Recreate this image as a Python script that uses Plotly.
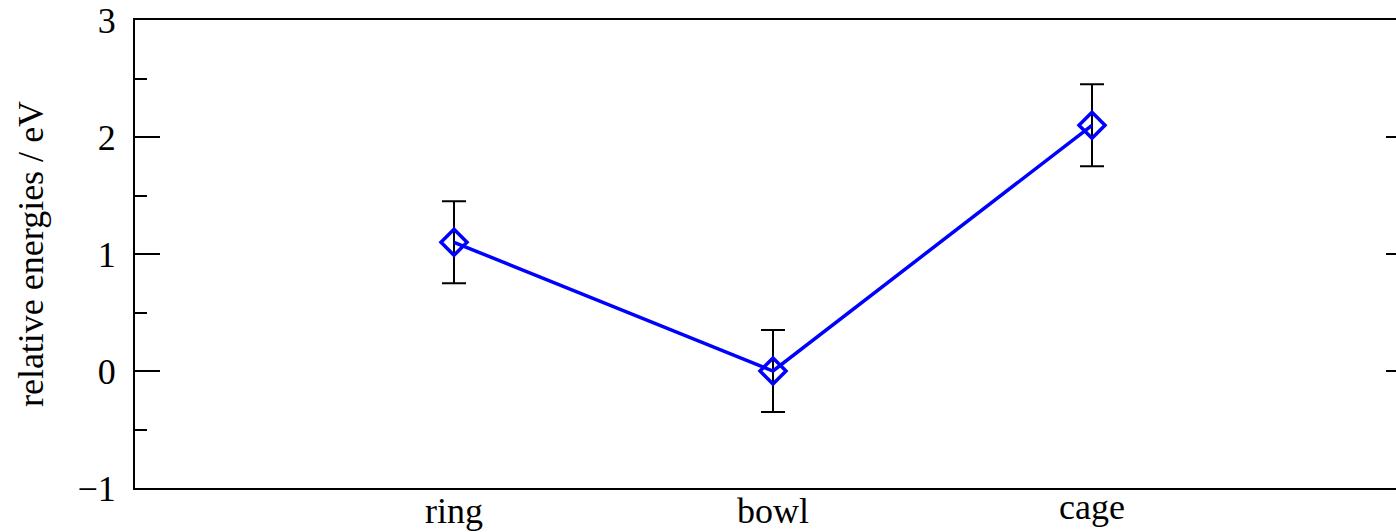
import plotly.graph_objects as go

# Structures and their relative energies (eV) with uncertainties
categories = ["ring", "bowl", "cage"]
x_pos = [1, 2, 3]
energies = [1.1, 0.0, 2.1]
errors = [0.35, 0.35, 0.35]

y_ticks = [-1, 0, 1, 2, 3]

SERIF = "Liberation Serif, Times New Roman, serif"
FS = 36

fig = go.Figure()
fig.add_trace(go.Scatter(
    x=x_pos,
    y=energies,
    mode="lines+markers",
    line=dict(color="#0000ff", width=3.5),
    marker=dict(symbol="diamond-open", size=20, color="#0000ff",
                line=dict(color="#0000ff", width=3.5)),
    error_y=dict(type="data", array=errors, visible=True,
                 color="black", thickness=2, width=12),
    showlegend=False,
    cliponaxis=False,
))

# category labels under the axis (the last one sits a little higher)
label_shift = {"cage": 4}
for xv, name in zip(x_pos, categories):
    fig.add_annotation(
        x=xv, y=0, xref="x", yref="paper",
        text=name, showarrow=False,
        xanchor="center", yanchor="top",
        yshift=-1 + label_shift.get(name, 0),
        font=dict(family=SERIF, size=FS, color="black"),
    )

fig.update_layout(
    width=1411,
    height=532,
    margin=dict(l=135, r=0, t=20, b=44),
    paper_bgcolor="white",
    plot_bgcolor="white",
    font=dict(family=SERIF, size=FS, color="black"),
    xaxis=dict(
        range=[0, 4],
        showticklabels=False,
        ticks="",
        showline=True,
        linecolor="black",
        linewidth=2,
        mirror=True,
        showgrid=False,
        zeroline=False,
        automargin=False,
    ),
    yaxis=dict(
        range=[-1, 3],
        tickvals=y_ticks,
        ticks="inside",
        ticklen=25,
        tickwidth=1.5,
        tickcolor="black",
        minor=dict(dtick=0.5, ticks="inside", ticklen=12, tickwidth=1.5,
                   tickcolor="black", showgrid=False),
        showline=True,
        linecolor="black",
        linewidth=2,
        mirror="ticks",
        showgrid=False,
        zeroline=False,
        automargin=False,
        tickfont=dict(size=FS),
        ticklabelstandoff=10,
        title=dict(text="relative energies / eV", font=dict(size=FS), standoff=23),
    ),
)

fig.write_html(
    "out.html",
    post_script="document.documentElement.style.overflow='hidden';"
                "document.body.style.overflow='hidden';document.body.style.margin='0';",
)
